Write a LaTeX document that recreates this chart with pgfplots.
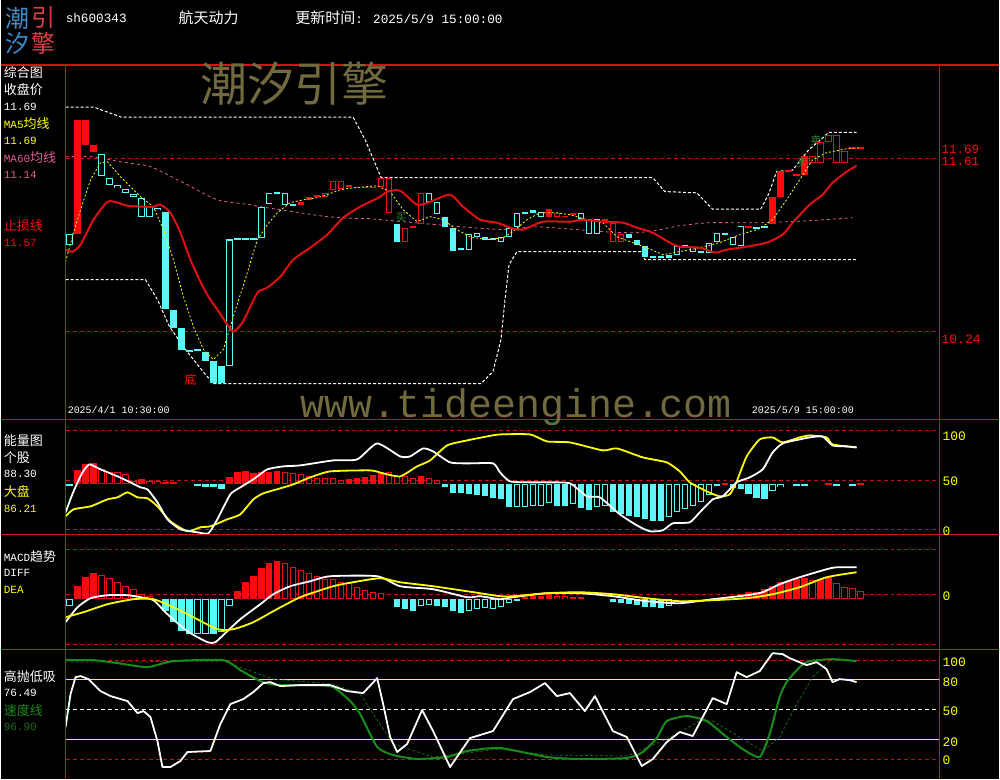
\documentclass[border=0pt]{standalone}
\usepackage{pgfplots}
\usepackage{pgfplotstable}
\pgfplotsset{compat=1.18}
\usepackage{fontspec}
\setmainfont{Liberation Mono}
\newfontfamily\cjk{Noto Sans CJK SC}
\newcommand\fs[1]{\fontsize{#1}{#1}\selectfont}

\definecolor{kred}{RGB}{250,10,10}
\definecolor{kcyan}{RGB}{84,252,252}
\definecolor{gridred}{RGB}{200,16,16}
\definecolor{framered}{RGB}{210,20,20}
\definecolor{stopred}{RGB}{225,16,16}
\definecolor{ma60}{RGB}{225,90,150}
\definecolor{kyel}{RGB}{255,255,0}
\definecolor{olive}{RGB}{112,106,62}
\definecolor{sgreen}{RGB}{24,140,24}
\definecolor{dgreen}{RGB}{30,110,30}
\definecolor{mgreen}{RGB}{45,135,45}
\definecolor{logoblue}{RGB}{58,140,200}
\definecolor{logored}{RGB}{222,64,64}

\pgfplotsset{
  panel/.style={scale only axis, width=875pt, hide axis,
    xmin=-0.5, xmax=108.875, anchor=south west},
  box/.style={draw=none, no markers, forget plot,
    error bars/y dir=both, error bars/y explicit, error bars/error mark=none,
    error bars/error bar style={solid, line width=6.4pt, draw=#1}},
  hole/.style={draw=none, no markers, forget plot,
    error bars/y dir=both, error bars/y explicit, error bars/error mark=none,
    error bars/error bar style={solid, line width=4.4pt, draw=black}},
  gridline/.style={gridred, line width=0.8pt, dash pattern=on 4pt off 3pt, forget plot},
}

% main panel candles: i lo hi (price)
\pgfplotstableread{
i lo hi
1 11.01 11.92
2 11.72 11.92
3 11.66 11.72
29 11.24 11.27
30 11.28 11.31
31 11.305 11.32
35 11.385 11.40
36 11.375 11.39
37 11.375 11.39
38 11.375 11.39
43 11.065 11.08
60 11.15 11.21
62 11.145 11.16
67 11.11 11.13
85 11.065 11.08
88 11.09 11.31
89 11.31 11.51
90 11.505 11.52
91 11.475 11.49
92 11.48 11.63
98 11.685 11.70
99 11.685 11.70
}\kRF
\pgfplotstableread{
i lo hi
32 11.31 11.34
33 11.36 11.43
34 11.37 11.43
39 11.39 11.46
40 11.18 11.46
42 10.95 11.06
44 11.09 11.34
61 11.15 11.18
63 11.165 11.18
68 10.95 11.10
69 10.95 11.01
93 11.58 11.63
94 11.58 11.74
95 11.74 11.80
96 11.58 11.80
97 11.58 11.67
}\kRH
\pgfplotstableread{
i lo hi
12 10.42 11.19
13 10.27 10.41
14 10.09 10.27
15 10.075 10.09
17 10.01 10.08
18 9.83 10.01
19 9.83 9.97
41 10.95 11.09
47 11.07 11.15
48 10.88 11.06
49 10.885 10.90
52 10.97 10.99
53 10.965 10.98
58 11.18 11.20
70 10.98 11.01
71 10.93 10.97
72 10.83 10.92
73 10.825 10.84
74 10.825 10.84
75 10.82 10.85
87 11.06 11.08
}\kCF
\pgfplotstableread{
i lo hi
0 10.93 11.01
4 11.47 11.65
5 11.40 11.46
6 11.38 11.40
7 11.34 11.37
8 11.31 11.33
9 11.15 11.30
10 11.15 11.23
11 11.20 11.22
16 10.085 10.10
20 9.97 10.97
21 10.965 10.98
22 10.965 10.98
23 10.965 10.98
24 10.98 11.23
25 11.25 11.34
26 11.335 11.35
27 11.24 11.34
28 11.235 11.25
45 11.27 11.34
46 11.17 11.27
50 10.89 11.01
51 10.99 11.02
54 10.95 10.99
55 10.99 11.06
56 11.07 11.18
57 11.175 11.19
59 11.15 11.19
64 11.13 11.18
65 11.01 11.13
66 11.01 11.13
76 10.85 10.92
77 10.915 10.93
78 10.87 10.91
79 10.865 10.88
80 10.86 10.94
81 10.95 11.02
82 11.005 11.02
83 10.93 10.99
84 10.92 11.08
86 11.055 11.07
}\kCH

% energy bars
\pgfplotstableread{
i lo hi
1 45 59
2 45 65
3 45 66
9 45 50
12 45 47
20 45 52
21 45 57
22 45 58
23 45 56
24 45 57
25 45 57
26 45 58
35 45 50
36 45 51
37 45 52
38 45 54
39 45 57
44 45 53
82 45 46.5
95 45 46.5
99 45 46.5
}\eRF
\pgfplotstableread{
i lo hi
4 45 60
5 45 57
6 45 57
7 45 55
8 45 48
10 45 48
11 45 48
13 45 47
27 45 57
28 45 56
29 45 55
30 45 53
31 45 51
32 45 51
33 45 51
34 45 49
40 45 57
41 45 53
42 45 53
43 45 51
45 45 51
46 45 49
}\eRH
\pgfplotstableread{
i lo hi
0 43.5 45
16 43.5 45
17 42 45
18 42 45
19 40 45
47 42 45
48 36 45
49 36 45
50 35 45
51 34 45
52 33 45
53 31 45
54 30 45
55 22 45
61 23 45
62 23 45
64 21 45
65 19 45
68 17 45
69 15 45
70 13 45
71 12 45
72 10 45
73 8 45
74 8 45
81 43 45
83 41 45
84 40 45
85 35 45
86 31 45
87 30 45
91 43.5 45
92 43.5 45
96 43.5 45
98 43.5 45
}\eCF
\pgfplotstableread{
i lo hi
56 22 45
57 22 45
58 23 45
59 23 45
60 26 45
63 25 45
66 22 45
67 23 45
75 12 45
76 17 45
77 20 45
78 23 45
79 27 45
80 34 45
88 38 45
89 42 45
}\eCH

% MACD bars
\pgfplotstableread{
i lo hi
1 -0.02 0.032
2 -0.02 0.068
3 -0.02 0.084
21 -0.02 0.012
22 -0.02 0.048
23 -0.02 0.072
24 -0.02 0.104
25 -0.02 0.124
26 -0.02 0.132
57 -0.02 -0.012
58 -0.02 -0.008
59 -0.02 -0.008
60 -0.02 0
82 -0.02 -0.012
84 -0.02 0
85 -0.02 0.008
86 -0.02 0.008
87 -0.02 0.02
88 -0.02 0.032
89 -0.02 0.048
90 -0.02 0.052
91 -0.02 0.06
92 -0.02 0.064
94 -0.02 0.06
95 -0.02 0.068
}\mRF
\pgfplotstableread{
i lo hi
4 -0.02 0.076
5 -0.02 0.064
6 -0.02 0.048
7 -0.02 0.032
8 -0.02 0.02
9 -0.02 0
10 -0.02 -0.008
27 -0.02 0.124
28 -0.02 0.108
29 -0.02 0.096
30 -0.02 0.084
31 -0.02 0.072
32 -0.02 0.06
33 -0.02 0.06
34 -0.02 0.048
35 -0.02 0.044
36 -0.02 0.028
37 -0.02 0.016
38 -0.02 0.008
39 -0.02 0.004
61 -0.02 -0.008
62 -0.02 -0.008
63 -0.02 -0.012
64 -0.02 -0.012
93 -0.02 0.056
96 -0.02 0.044
97 -0.02 0.028
98 -0.02 0.024
99 -0.02 0.012
}\mRH
\pgfplotstableread{
i lo hi
12 -0.068 -0.02
13 -0.112 -0.02
14 -0.148 -0.02
15 -0.16 -0.02
18 -0.16 -0.02
41 -0.052 -0.02
42 -0.06 -0.02
43 -0.068 -0.02
46 -0.048 -0.02
47 -0.052 -0.02
48 -0.068 -0.02
49 -0.076 -0.02
56 -0.026 -0.02
68 -0.032 -0.02
69 -0.036 -0.02
70 -0.04 -0.02
71 -0.044 -0.02
72 -0.052 -0.02
73 -0.052 -0.02
74 -0.056 -0.02
}\mCF
\pgfplotstableread{
i lo hi
0 -0.048 -0.02
16 -0.16 -0.02
17 -0.16 -0.02
19 -0.152 -0.02
20 -0.048 -0.02
44 -0.048 -0.02
45 -0.044 -0.02
50 -0.068 -0.02
51 -0.06 -0.02
52 -0.056 -0.02
53 -0.06 -0.02
54 -0.052 -0.02
55 -0.036 -0.02
75 -0.048 -0.02
}\mCH

\begin{document}
\begin{tikzpicture}
\fill[black] (0,0) rectangle (1000pt,780pt);

% ---------------- main panel
\begin{axis}[panel, at={(65pt,360pt)}, height=355pt, ymin=9.5431, ymax=12.3544]
\addplot[gridline] coordinates {(-0.5,11.61) (108.875,11.61)};
\addplot[gridline] coordinates {(-0.5,10.24) (108.875,10.24)};
% upper / lower bands
\addplot[white, line width=1pt, dash pattern=on 3pt off 2pt] coordinates {
(-0.5,12.02) (3,12.02) (6.5,11.94) (35.5,11.94) (37,11.76) (39,11.46) (73,11.46)
(74.5,11.35) (78.5,11.34) (80.5,11.21) (86.5,11.21) (87.5,11.33) (88.5,11.51)
(90.5,11.52) (92.5,11.68) (94,11.76) (95,11.82) (98.5,11.82)};
\addplot[white, line width=1pt, dash pattern=on 3pt off 2pt] coordinates {
(-0.5,10.652) (9.5,10.652) (11,10.493) (12.5,10.28) (14.5,10.098) (17,9.90) (18,9.828)
(51.5,9.828) (53,9.923) (54,10.177) (54.5,10.493) (55,10.77) (56,10.874)
(71.5,10.874) (72,10.81) (98.5,10.81)};
% MA60
\addplot[ma60, line width=0.8pt, dash pattern=on 3pt off 3pt, smooth, tension=0.4] coordinates {
(-0.5,11.626) (3,11.626) (6.375,11.586) (10.125,11.547) (14.25,11.42) (18.5,11.285)
(22.625,11.246) (23.875,11.23) (28,11.19) (32.25,11.151) (36.375,11.135) (37.625,11.135)
(46,11.087) (54.25,11.048) (58.5,11.071) (66.75,11.032) (71,11.024) (73.875,11.048)
(76.375,11.079) (80.125,11.103) (86.375,11.103) (92.625,11.119) (98,11.143)};
% candles
\addplot[box=kred] table[x=i, y expr={(\thisrow{lo}+\thisrow{hi})/2}, y error expr={(\thisrow{hi}-\thisrow{lo})/2}] {\kRF};
\addplot[box=kcyan] table[x=i, y expr={(\thisrow{lo}+\thisrow{hi})/2}, y error expr={(\thisrow{hi}-\thisrow{lo})/2}] {\kCF};
\addplot[box=kred] table[x=i, y expr={(\thisrow{lo}+\thisrow{hi})/2}, y error expr={(\thisrow{hi}-\thisrow{lo})/2}] {\kRH};
\addplot[hole] table[x=i, y expr={(\thisrow{lo}+\thisrow{hi})/2}, y error expr={max((\thisrow{hi}-\thisrow{lo})/2-0.008,0)}] {\kRH};
\addplot[box=kcyan] table[x=i, y expr={(\thisrow{lo}+\thisrow{hi})/2}, y error expr={(\thisrow{hi}-\thisrow{lo})/2}] {\kCH};
\addplot[hole] table[x=i, y expr={(\thisrow{lo}+\thisrow{hi})/2}, y error expr={max((\thisrow{hi}-\thisrow{lo})/2-0.008,0)}] {\kCH};
% MA5
\addplot[kyel, line width=0.8pt, dash pattern=on 2pt off 2pt] coordinates {
(-0.5,10.794) (0.5,11.024) (1.375,11.206) (2.625,11.444) (3.875,11.578) (4.75,11.586)
(6.375,11.467) (8.875,11.309) (10.5,11.23) (11.75,11.048) (13,10.81) (14.25,10.517)
(15.5,10.28) (16.75,10.098) (18,10.018) (19.25,10.098) (20.5,10.359) (22.25,10.707)
(23.5,10.968) (24.75,11.087) (26,11.182) (27.625,11.262) (29.25,11.285) (31,11.301)
(32.25,11.325) (33.875,11.365) (35.5,11.38) (38.5,11.396) (40.125,11.349) (41.75,11.206)
(43.5,11.111) (45.125,11.151) (46.75,11.127) (48.5,11.048) (50.125,10.992) (52.25,10.968)
(54.25,10.984) (55.5,11.032) (57.25,11.127) (58.875,11.182) (61,11.182) (62.625,11.166)
(64.75,11.127) (66.75,11.103) (68.5,10.992) (70.125,10.953) (72.25,10.905) (74.25,10.85)
(76.375,10.874) (78.875,10.905) (81.375,10.945) (83.875,11.008) (86.375,11.056) (88,11.127)
(89.75,11.285) (91.375,11.444) (93,11.602) (94.75,11.658) (97.25,11.689) (98.875,11.697)};
% stop line
\addplot[stopred, line width=2pt, smooth, tension=0.4] coordinates {
(-0.5,10.889) (0.375,10.874) (1.375,10.929) (3,11.127) (4.75,11.269) (6,11.262)
(7.25,11.238) (9.25,11.23) (10.5,11.23) (11.375,11.246) (12.625,11.182) (13.875,11.024)
(15.125,10.81) (16.375,10.636) (17.375,10.517) (18.5,10.414) (19.75,10.295) (20.5,10.24)
(21.625,10.311) (22.875,10.47) (23.625,10.557) (24.75,10.588) (26.375,10.675) (28,10.81)
(30.125,10.905) (32.25,11.008) (34.25,11.143) (36.375,11.23) (37.625,11.269) (38.875,11.309)
(39.75,11.349) (41.375,11.357) (43.5,11.246) (45.125,11.269) (47.625,11.325) (49.25,11.23)
(51.375,11.127) (53.5,11.103) (55.5,11.056) (56.75,11.048) (59.25,11.111) (62.625,11.111)
(64.25,11.127) (66.75,11.111) (69.25,11.103) (71,11.064) (73,11.024) (75.125,10.945)
(76.375,10.913) (78.875,10.905) (80.75,10.866) (82.25,10.889) (84.75,10.913) (87.25,10.945)
(89.25,11.008) (90.5,11.103) (92.625,11.246) (94.25,11.325) (95.5,11.42) (97.25,11.507)
(98.5,11.555)};
% signal marks
\node[mgreen, font=\cjk\fs{11}] at (axis cs:41.5,11.14) {买};
\node[mgreen, font=\cjk\fs{11}] at (axis cs:91.7,11.58) {卖};
\node[mgreen, font=\cjk\fs{11}] at (axis cs:93.4,11.76) {卖};
\end{axis}

% ---------------- energy panel
\begin{axis}[panel, at={(65pt,245pt)}, height=115pt, ymin=-5, ymax=110]
\addplot[gridline] coordinates {(-0.5,99.3) (108.875,99.3)};
\addplot[gridline] coordinates {(-0.5,49.3) (108.875,49.3)};
\addplot[gridline] coordinates {(-0.5,0) (108.875,0)};
\addplot[box=kred] table[x=i, y expr={(\thisrow{lo}+\thisrow{hi})/2}, y error expr={(\thisrow{hi}-\thisrow{lo})/2}] {\eRF};
\addplot[box=kcyan] table[x=i, y expr={(\thisrow{lo}+\thisrow{hi})/2}, y error expr={(\thisrow{hi}-\thisrow{lo})/2}] {\eCF};
\addplot[box=kred] table[x=i, y expr={(\thisrow{lo}+\thisrow{hi})/2}, y error expr={(\thisrow{hi}-\thisrow{lo})/2}] {\eRH};
\addplot[hole] table[x=i, y expr={(\thisrow{lo}+\thisrow{hi})/2}, y error expr={max((\thisrow{hi}-\thisrow{lo})/2-1,0)}] {\eRH};
\addplot[box=kcyan] table[x=i, y expr={(\thisrow{lo}+\thisrow{hi})/2}, y error expr={(\thisrow{hi}-\thisrow{lo})/2}] {\eCH};
\addplot[hole] table[x=i, y expr={(\thisrow{lo}+\thisrow{hi})/2}, y error expr={max((\thisrow{hi}-\thisrow{lo})/2-1,0)}] {\eCH};
\addplot[kyel, line width=1.8pt, smooth, tension=0.35] coordinates {
(-0.5,13) (0.5,20) (2.625,23) (4.75,30) (6,32) (7.25,37) (8.5,32) (9.75,31) (11,23)
(12.625,8) (14.75,-2) (16.375,2) (17.625,3) (19.75,10) (21.375,15) (23,30) (24.25,36)
(26.375,41) (28,45) (30.125,52) (32.625,58) (37.625,59) (39.25,56) (41.375,53) (43.5,63)
(45.125,69) (47.25,84) (49.75,89) (52.25,93) (53.875,95) (57.625,95) (59.75,88) (62.625,87)
(66.75,79) (68.5,81) (71.75,72) (74.75,67) (76.375,58) (77.625,47) (79.75,38) (81.375,33)
(82.625,35) (83.5,48) (84.75,73) (86.375,90) (88,92) (89.25,87) (91.375,92) (92.625,94)
(94.75,92) (95.5,85) (98.5,82)};
\addplot[white, line width=1.8pt, smooth, tension=0.35] coordinates {
(-0.5,17) (0.5,38) (1.625,57) (2.5,65) (3.875,60) (6,53) (7.625,47) (8.875,42) (9.75,40)
(11,27) (12.25,10) (13.875,0) (16,-3) (17.375,-4) (18.5,10) (20.125,35) (21.375,42) (23,50)
(24.75,60) (26.75,63) (28.875,64) (33,69) (36,70) (38.5,86) (41.375,73) (42.625,73)
(44.25,81) (45.5,78) (47.625,67) (49.75,66) (53,66) (53.875,57) (55.125,48) (57.625,47)
(59.75,47) (62.625,46) (64.75,33) (66.375,32) (68.875,15) (71,4) (72.625,-2) (74.25,-1)
(75.5,6) (77.625,7) (78.875,17) (80.5,30) (81.75,33) (83.5,47) (85.125,52) (86.75,60)
(88,77) (89.25,86) (91.375,90) (92.625,92) (94.25,93) (95.5,84) (97.25,83) (98.5,82)};
\end{axis}

% ---------------- MACD panel
\begin{axis}[panel, at={(65pt,130pt)}, height=115pt, ymin=-0.22, ymax=0.24]
\addplot[gridline] coordinates {(-0.5,0.18) (108.875,0.18)};
\addplot[gridline] coordinates {(-0.5,0) (108.875,0)};
\addplot[gridline] coordinates {(-0.5,-0.2) (108.875,-0.2)};
\addplot[box=kred] table[x=i, y expr={(\thisrow{lo}+\thisrow{hi})/2}, y error expr={(\thisrow{hi}-\thisrow{lo})/2}] {\mRF};
\addplot[box=kcyan] table[x=i, y expr={(\thisrow{lo}+\thisrow{hi})/2}, y error expr={(\thisrow{hi}-\thisrow{lo})/2}] {\mCF};
\addplot[box=kred] table[x=i, y expr={(\thisrow{lo}+\thisrow{hi})/2}, y error expr={(\thisrow{hi}-\thisrow{lo})/2}] {\mRH};
\addplot[hole] table[x=i, y expr={(\thisrow{lo}+\thisrow{hi})/2}, y error expr={max((\thisrow{hi}-\thisrow{lo})/2-0.004,0)}] {\mRH};
\addplot[box=kcyan] table[x=i, y expr={(\thisrow{lo}+\thisrow{hi})/2}, y error expr={(\thisrow{hi}-\thisrow{lo})/2}] {\mCH};
\addplot[hole] table[x=i, y expr={(\thisrow{lo}+\thisrow{hi})/2}, y error expr={max((\thisrow{hi}-\thisrow{lo})/2-0.004,0)}] {\mCH};
\addplot[white, line width=1.8pt, smooth, tension=0.4] coordinates {
(-0.5,-0.112) (1,-0.052) (2.625,-0.016) (4.75,-0.004) (7.25,-0.004) (8.875,-0.012)
(10.5,-0.024) (12.25,-0.08) (14.75,-0.148) (17.25,-0.192) (18.25,-0.192) (19.75,-0.148)
(21.375,-0.1) (23.875,-0.04) (25.5,0) (27.625,0.032) (30.125,0.052) (32.625,0.072)
(38.5,0.072) (41.375,0.032) (45.5,0.02) (49.75,-0.012) (51.375,-0.008) (53.875,-0.02)
(55.5,-0.012) (59.75,0.004) (63.875,0.004) (68,-0.008) (72.25,-0.028) (76.375,-0.036)
(80.5,-0.02) (84.75,-0.004) (86.75,0.008) (88.875,0.04) (91.375,0.068) (94.75,0.1)
(96,0.108) (98.5,0.108)};
\addplot[kyel, line width=1.8pt, smooth, tension=0.4] coordinates {
(-0.5,-0.092) (1.75,-0.072) (4.75,-0.04) (8,-0.02) (10.5,-0.02) (13,-0.052) (15.5,-0.092)
(18.5,-0.14) (20.5,-0.14) (23,-0.112) (25.5,-0.068) (28.875,-0.012) (33,0.032) (35.5,0.048)
(38.875,0.064) (41.375,0.048) (45.5,0.032) (49.75,0.012) (51.375,0.004) (53.875,-0.008)
(55.5,-0.008) (59.75,0.004) (63.875,0.008) (68,0) (72.25,-0.016) (76.375,-0.028)
(80.5,-0.024) (84.75,-0.016) (88,0) (91.375,0.028) (94.75,0.068) (98.5,0.088)};
\end{axis}

% ---------------- high/low panel
\begin{axis}[panel, at={(65pt,0pt)}, height=130pt, ymin=-20, ymax=110]
\addplot[gridline] coordinates {(-0.5,99) (108.875,99)};
\addplot[gridline] coordinates {(-0.5,0) (108.875,0)};
\addplot[kyel, line width=1pt, forget plot] coordinates {(-0.5,80) (108.875,80)};
\addplot[kyel, line width=1pt, forget plot] coordinates {(-0.5,20) (108.875,20)};
\addplot[white, line width=1pt, dash pattern=on 4pt off 3pt, forget plot] coordinates {(-0.5,50) (108.875,50)};
\addplot[dgreen, line width=0.7pt, dash pattern=on 3pt off 2pt] coordinates {
(-0.5,97) (19.25,98) (25.5,80) (33,75) (36.375,65) (40.5,15) (45.5,2) (53.875,10)
(59.75,4) (69.75,3) (74.75,20) (78.875,38) (80.5,38) (86.75,8) (88.875,22) (91,55)
(93,82) (95.125,98) (98.5,99)};
\addplot[sgreen, line width=2pt, smooth, tension=0.35] coordinates {
(-0.5,99) (3,99) (6,96) (9.75,92) (13,98) (19.25,99) (21.375,89) (23.875,78) (26,74)
(31,74) (33,72) (35.125,58) (36.375,45) (38.5,12) (40.5,4) (43.5,0) (47.25,2) (49.75,8)
(53.875,11) (59.75,2) (63.875,0) (69.75,1) (71.75,7) (73.5,21) (74.75,38) (77.25,43)
(79.75,38) (82.25,22) (84.25,10) (86.375,2) (87.625,25) (88.875,62) (89.75,77) (91.375,92)
(92.625,98) (95.5,100) (98.5,98)};
\addplot[white, line width=1.8pt, line join=round] coordinates {
(-0.5,32) (0.125,65) (0.75,82) (1.375,83) (2.375,80) (3.875,68) (5.125,63) (7.25,58)
(8.5,46) (9.25,48) (10.125,42) (11,18) (11.625,-8) (12.625,-8) (13.875,-2) (14.75,7)
(17.625,8) (18.875,35) (20.125,55) (21.75,60) (23,67) (24.25,76) (25.125,77) (26.375,73)
(28.875,74) (32.625,74) (34.75,68) (36.75,66) (38.5,81) (39.25,55) (40.125,22) (41,7)
(42.25,15) (44.125,49) (45.5,28) (47.625,-8) (50.125,21) (51.375,24) (53,28) (55.5,60)
(57.625,67) (59.5,76) (61,63) (62.625,66) (64.5,48) (65.75,63) (68,28) (69.75,22)
(71.625,-7) (73,0) (74.75,17) (76.375,27) (78,23) (80.5,61) (82.25,55) (83.5,87)
(84.75,82) (86.375,88) (88,106) (89.25,105) (90.125,101) (92.25,94) (93.5,97) (94.75,90)
(95.5,77) (96.375,80) (97.625,79) (98.5,77)};
\end{axis}

% ---------------- frame and texts (pixel coordinates, y downwards)
\begin{scope}[x=1pt, y=-1pt, yshift=780pt]
\draw[framered, line width=1.3pt] (0,65)--(1000,65) (0,420)--(1000,420)
  (0,535)--(1000,535) (0,650)--(1000,650) (65,65)--(65,780) (940,65)--(940,780);
\tikzset{every node/.style={inner sep=0pt, anchor=west}}
% header
\node[logoblue] at (5,18) {\cjk\fs{24}潮};
\node[logored] at (31,18) {\cjk\fs{24}引};
\node[logoblue] at (5,43) {\cjk\fs{24}汐};
\node[logored] at (31,43) {\cjk\fs{24}擎};
\node[white] at (65,18) {\fs{12.7}sh600343};
\node[white] at (178,18) {\cjk\fs{15}航天动力};
\node[white] at (295,18) {\fs{12.7}{\cjk\fs{15}更新时间}: 2025/5/9 15:00:00};
% watermarks
\node[olive, anchor=base west] at (200,102) {\cjk\fs{47}潮汐引擎};
\node[olive, anchor=base west] at (300,418) {\fs{40}www.tideengine.com};
% main panel texts
\node[white] at (3,73) {\cjk\fs{13}综合图};
\node[white] at (3,90) {\cjk\fs{13}收盘价};
\node[white] at (3,107) {\fs{11}11.69};
\node[kyel] at (3,124) {\fs{11}MA5{\cjk\fs{13}均线}};
\node[kyel] at (3,141) {\fs{11}11.69};
\node[ma60] at (3,158) {\fs{11}MA60{\cjk\fs{13}均线}};
\node[ma60] at (3,175) {\fs{11}11.14};
\node[kred] at (3,226) {\cjk\fs{13}止损线};
\node[kred] at (3,243) {\fs{11}11.57};
\node[kred] at (184,380) {\cjk\fs{12}底};
\node[white] at (67,410) {\fs{10}2025/4/1 10:30:00};
\node[white] at (752,410) {\fs{10}2025/5/9 15:00:00};
\node[kred] at (942,150) {\fs{12.5}11.69};
\node[kred] at (942,162) {\fs{12.5}11.61};
\node[kred] at (942,340) {\fs{13}10.24};
% energy
\node[white] at (3,441) {\cjk\fs{13}能量图};
\node[white] at (3,458) {\cjk\fs{13}个股};
\node[white] at (3,475) {\fs{11}88.30};
\node[kyel] at (3,492) {\cjk\fs{13}大盘};
\node[kyel] at (3,510) {\fs{11}86.21};
\node[kyel] at (943,437) {\fs{13}100};
\node[kyel] at (943,482) {\fs{13}50};
\node[kyel] at (943,532) {\fs{13}0};
% MACD
\node[white] at (3,557) {\fs{11}MACD{\cjk\fs{13}趋势}};
\node[white] at (3,574) {\fs{11}DIFF};
\node[kyel] at (3,591) {\fs{11}DEA};
\node[kyel] at (943,597) {\fs{13}0};
% high/low
\node[white] at (3,677) {\cjk\fs{13}高抛低吸};
\node[white] at (3,694) {\fs{11}76.49};
\node[sgreen] at (3,711) {\cjk\fs{13}速度线};
\node[dgreen] at (3,728) {\fs{11}96.90};
\node[kyel] at (943,663) {\fs{13}100};
\node[kyel] at (943,683) {\fs{13}80};
\node[kyel] at (943,712) {\fs{13}50};
\node[kyel] at (943,743) {\fs{13}20};
\node[kyel] at (943,761) {\fs{13}0};
\end{scope}
\end{tikzpicture}
\end{document}
